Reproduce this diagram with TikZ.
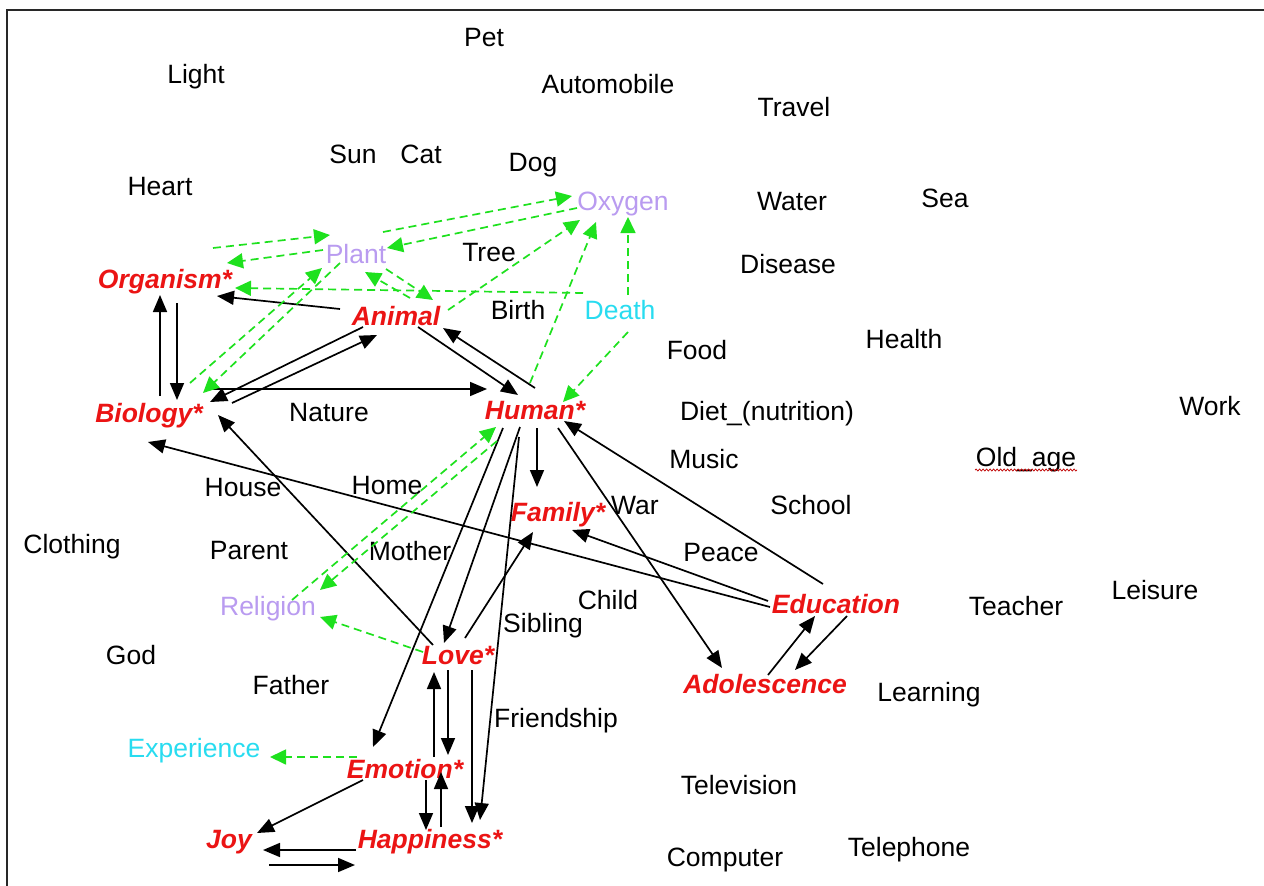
\documentclass[tikz,border=0pt]{standalone}
\usepackage{fontspec}
\setmainfont{Liberation Sans}
\usetikzlibrary{arrows.meta,decorations.pathmorphing}

\definecolor{keyred}{RGB}{235,20,20}
\definecolor{lav}{RGB}{185,155,240}
\definecolor{aqua}{RGB}{40,220,240}
\definecolor{lime}{RGB}{30,225,30}
\definecolor{frame}{RGB}{40,40,40}

\newcommand\wordsize{\fontsize{26.5}{30}\selectfont}

\tikzset{
  word/.style={font=\wordsize, inner sep=0pt, text height=19pt, text depth=0pt, anchor=center},
  keyw/.style={word, font=\wordsize\bfseries\itshape, text=keyred},
  lavw/.style={word, text=lav},
  aquaw/.style={word, text=aqua},
  link/.style={line width=1.7pt, black, -{Triangle[length=17pt,width=14pt]}},
  assoc/.style={line width=1.7pt, lime, dash pattern=on 8pt off 5pt, -{Triangle[length=16pt,width=15pt]}},
}

\begin{document}
\begin{tikzpicture}[x=1pt,y=-1pt]
\useasboundingbox (0,0) rectangle (1264,886);
\fill[white] (0,0) rectangle (1264,886);
% frame (top and left edges)
\draw[frame, line width=2pt] (6.5,886) -- (6.5,9.5) -- (1264,9.5);

% plain words
\node[word] (Pet) at (484,37) {Pet};
\node[word] (Light) at (196,74) {Light};
\node[word] (Automobile) at (608,84) {Automobile};
\node[word] (Travel) at (794,107) {Travel};
\node[word] (Sun) at (353,154) {Sun};
\node[word] (Cat) at (421,154) {Cat};
\node[word] (Dog) at (533,162) {Dog};
\node[word] (Heart) at (160,186) {Heart};
\node[word] (Water) at (792,201) {Water};
\node[word] (Sea) at (945,198) {Sea};
\node[word] (Tree) at (489,252) {Tree};
\node[word] (Disease) at (788,264) {Disease};
\node[word] (Birth) at (518,310) {Birth};
\node[word] (Food) at (697,350) {Food};
\node[word] (Health) at (904,339) {Health};
\node[word] (Nature) at (329,412) {Nature};
\node[word] (Diet) at (767,411) {Diet\_(nutrition)};
\node[word] (Work) at (1210,406) {Work};
\node[word] (Music) at (704,459) {Music};
\node[word] (Oldage) at (1026,457) {Old\_age};
\node[word] (House) at (243,487) {House};
\node[word] (Home) at (387,485) {Home};
\node[word] (War) at (635,505) {War};
\node[word] (School) at (811,505) {School};
\node[word] (Clothing) at (72,544) {Clothing};
\node[word] (Parent) at (249,550) {Parent};
\node[word] (Mother) at (410,551) {Mother};
\node[word] (Peace) at (721,552) {Peace};
\node[word] (Child) at (608,600) {Child};
\node[word] (Leisure) at (1155,590) {Leisure};
\node[word] (Teacher) at (1016,606) {Teacher};
\node[word] (Sibling) at (543,623) {Sibling};
\node[word] (God) at (131,655) {God};
\node[word] (Father) at (291,685) {Father};
\node[word] (Learning) at (929,692) {Learning};
\node[word] (Friendship) at (556,718) {Friendship};
\node[word] (Television) at (739,785) {Television};
\node[word] (Telephone) at (909,847) {Telephone};
\node[word] (Computer) at (725,857) {Computer};

% spell-check squiggle under Old_age
\draw[red!75!black, line width=0.7pt, decorate,
      decoration={snake, amplitude=1pt, segment length=3.5pt}]
  ([shift={(-51,13)}]Oldage.center) -- ([shift={(51,13)}]Oldage.center);

% coloured concepts
\node[lavw] (Oxygen) at (623,201) {Oxygen};
\node[lavw] (Plant) at (356,254) {Plant};
\node[keyw] (Organism) at (165,279) {Organism*};
\node[keyw] (Animal) at (396,316) {Animal};
\node[aquaw] (Death) at (620,310) {Death};
\node[keyw] (Biology) at (149,413) {Biology*};
\node[keyw] (Human) at (535,410) {Human*};
\node[keyw] (Family) at (558,512) {Family*};
\node[lavw] (Religion) at (268,606) {Religion};
\node[keyw] (Education) at (836,604) {Education};
\node[keyw] (Love) at (458,655) {Love*};
\node[keyw] (Adolescence) at (765,684) {Adolescence};
\node[aquaw] (Experience) at (194,748) {Experience};
\node[keyw] (Emotion) at (405,769) {Emotion*};
\node[keyw] (Joy) at (229,839) {Joy};
\node[keyw] (Happiness) at (430,839) {Happiness*};

% solid links
\draw[link] ([shift={(-56,-7)}]Animal.center) -- ([shift={(52,17)}]Organism.center);
\draw[link] ([shift={(12,24)}]Organism.center) -- ([shift={(28,-13)}]Biology.center);
\draw[link] ([shift={(11,-17)}]Biology.center) -- ([shift={(-5,16)}]Organism.center);
\draw[link] ([shift={(-33,11)}]Animal.center) -- ([shift={(61,-11)}]Biology.center);
\draw[link] ([shift={(83,-10)}]Biology.center) -- ([shift={(-19,19)}]Animal.center);
\draw[link] ([shift={(63,-24)}]Biology.center) -- ([shift={(-48,-21)}]Human.center);
\draw[link] ([shift={(22,11)}]Animal.center) -- ([shift={(-17,-15)}]Human.center);
\draw[link] ([shift={(0,-22)}]Human.center) -- ([shift={(47,12)}]Animal.center);
\draw[link] ([shift={(-25,-10)}]Love.center) -- ([shift={(69,2)}]Biology.center);
\draw[link] ([shift={(-66,3)}]Education.center) -- ([shift={(-1,29)}]Biology.center);
\draw[link] ([shift={(-68,-3)}]Education.center) -- ([shift={(14,18)}]Family.center);
\draw[link] ([shift={(-13,-20)}]Education.center) -- ([shift={(29,11)}]Human.center);
\draw[link] ([shift={(23,18)}]Human.center) -- ([shift={(-43,-16)}]Adolescence.center);
\draw[link] ([shift={(3,-9)}]Adolescence.center) -- ([shift={(-21,12)}]Education.center);
\draw[link] ([shift={(11,12)}]Education.center) -- ([shift={(30,-14)}]Adolescence.center);
\draw[link] ([shift={(2,18)}]Human.center) -- ([shift={(-21,-25)}]Family.center);
\draw[link] ([shift={(-15,17)}]Human.center) -- ([shift={(-14,-12)}]Love.center);
\draw[link] ([shift={(-32,18)}]Human.center) -- ([shift={(-32,-22)}]Emotion.center);
\draw[link] ([shift={(-16,27)}]Human.center) -- ([shift={(50,-19)}]Happiness.center);
\draw[link] ([shift={(7,-17)}]Love.center) -- ([shift={(-25,20)}]Family.center);
\draw[link] ([shift={(29,-12)}]Emotion.center) -- ([shift={(-24,17)}]Love.center);
\draw[link] ([shift={(-10,15)}]Love.center) -- ([shift={(43,-14)}]Emotion.center);
\draw[link] ([shift={(14,15)}]Love.center) -- ([shift={(42,-16)}]Happiness.center);
\draw[link] ([shift={(21,11)}]Emotion.center) -- ([shift={(-4,-9)}]Happiness.center);
\draw[link] ([shift={(11,-12)}]Happiness.center) -- ([shift={(36,3)}]Emotion.center);
\draw[link] ([shift={(-42,11)}]Emotion.center) -- ([shift={(28,-6)}]Joy.center);
\draw[link] ([shift={(-74,11)}]Happiness.center) -- ([shift={(34,11)}]Joy.center);
\draw[link] ([shift={(40,26)}]Joy.center) -- ([shift={(-75,26)}]Happiness.center);

% dashed associations
\draw[assoc] ([shift={(48,-31)}]Organism.center) -- ([shift={(-26,-19)}]Plant.center);
\draw[assoc] ([shift={(-33,-4)}]Plant.center) -- ([shift={(62,-16)}]Organism.center);
\draw[assoc] ([shift={(41,-30)}]Biology.center) -- ([shift={(-34,14)}]Plant.center);
\draw[assoc] ([shift={(-16,9)}]Plant.center) -- ([shift={(54,-20)}]Biology.center);
\draw[assoc] ([shift={(-37,-17)}]Death.center) -- ([shift={(70,9)}]Organism.center);
\draw[assoc] ([shift={(14,-18)}]Animal.center) -- ([shift={(9,18)}]Plant.center);
\draw[assoc] ([shift={(30,15)}]Plant.center) -- ([shift={(37,-16)}]Animal.center);
\draw[assoc] ([shift={(27,-22)}]Plant.center) -- ([shift={(-51,-5)}]Oxygen.center);
\draw[assoc] ([shift={(-46,7)}]Oxygen.center) -- ([shift={(31,-6)}]Plant.center);
\draw[assoc] ([shift={(52,-6)}]Animal.center) -- ([shift={(-43,19)}]Oxygen.center);
\draw[assoc] ([shift={(-5,-27)}]Human.center) -- ([shift={(-27,21)}]Oxygen.center);
\draw[assoc] ([shift={(8,-15)}]Death.center) -- ([shift={(5,16)}]Oxygen.center);
\draw[assoc] ([shift={(8,22)}]Death.center) -- ([shift={(28,-8)}]Human.center);
\draw[assoc] ([shift={(-38,31)}]Human.center) -- ([shift={(52,-16)}]Religion.center);
\draw[assoc] ([shift={(24,-6)}]Religion.center) -- ([shift={(-39,17)}]Human.center);
\draw[assoc] ([shift={(-35,-3)}]Love.center) -- ([shift={(52,11)}]Religion.center);
\draw[assoc] ([shift={(-48,-12)}]Emotion.center) -- ([shift={(76,9)}]Experience.center);
\end{tikzpicture}
\end{document}
